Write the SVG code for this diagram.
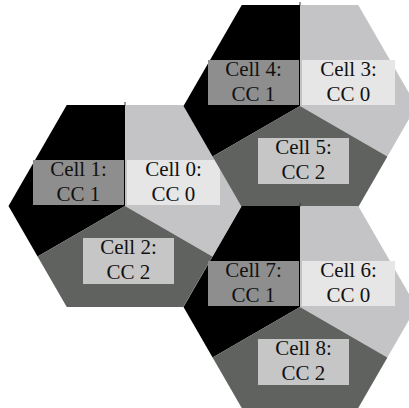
<svg xmlns="http://www.w3.org/2000/svg" width="409" height="408" viewBox="0 0 409 408">
<style>
.s1{fill:#000000}
.s0{fill:#c4c4c7}
.s2{fill:#5f625f}
.b1{fill:#8e8e8e}
.b0{fill:#e6e6e6}
.b2{fill:#c6c6c6}
.t{font-size:21px;fill:#111111;text-anchor:middle}
.tick{stroke:#333333;stroke-width:1}
</style>
<rect width="409" height="408" fill="#ffffff"/>
<g id="hex1">
<g id="cell1">
<polygon class="s1" points="125,206 125,105.1 66.75,105.1 8.5,206 37.6,256.4"/>
<rect class="b1" x="33" y="160" width="91" height="45"/>
<text class="t" font-family="Liberation Serif, serif" x="78.5" y="176">Cell 1:</text>
<text class="t" font-family="Liberation Serif, serif" x="78.5" y="201">CC 1</text>
</g>
<g id="cell0">
<polygon class="s0" points="125,206 125,105.1 183.25,105.1 241.5,206 212.4,256.4"/>
<rect class="b0" x="127" y="160" width="93" height="45"/>
<text class="t" font-family="Liberation Serif, serif" x="173.5" y="176">Cell 0:</text>
<text class="t" font-family="Liberation Serif, serif" x="173.5" y="201">CC 0</text>
</g>
<g id="cell2">
<polygon class="s2" points="125,206 212.4,256.4 183.25,306.9 66.75,306.9 37.6,256.4"/>
<rect class="b2" x="83" y="238" width="91" height="46"/>
<text class="t" font-family="Liberation Serif, serif" x="128.5" y="254">Cell 2:</text>
<text class="t" font-family="Liberation Serif, serif" x="128.5" y="279">CC 2</text>
</g>
</g>
<g id="hex2">
<g id="cell4">
<polygon class="s1" points="300,106 300,5.1 241.75,5.1 183.5,106 212.6,156.4"/>
<rect class="b1" x="208" y="60" width="91" height="45"/>
<text class="t" font-family="Liberation Serif, serif" x="253.5" y="76">Cell 4:</text>
<text class="t" font-family="Liberation Serif, serif" x="253.5" y="101">CC 1</text>
</g>
<g id="cell3">
<polygon class="s0" points="300,106 300,5.1 358.25,5.1 416.5,106 387.4,156.4"/>
<rect class="b0" x="302" y="60" width="93" height="45"/>
<text class="t" font-family="Liberation Serif, serif" x="348.5" y="76">Cell 3:</text>
<text class="t" font-family="Liberation Serif, serif" x="348.5" y="101">CC 0</text>
</g>
<g id="cell5">
<polygon class="s2" points="300,106 387.4,156.4 358.25,206.9 241.75,206.9 212.6,156.4"/>
<rect class="b2" x="258" y="138" width="91" height="46"/>
<text class="t" font-family="Liberation Serif, serif" x="303.5" y="154">Cell 5:</text>
<text class="t" font-family="Liberation Serif, serif" x="303.5" y="179">CC 2</text>
</g>
</g>
<g id="hex3">
<g id="cell7">
<polygon class="s1" points="300,307 300,206.1 241.75,206.1 183.5,307 212.6,357.4"/>
<rect class="b1" x="208" y="261" width="91" height="45"/>
<text class="t" font-family="Liberation Serif, serif" x="253.5" y="277">Cell 7:</text>
<text class="t" font-family="Liberation Serif, serif" x="253.5" y="302">CC 1</text>
</g>
<g id="cell6">
<polygon class="s0" points="300,307 300,206.1 358.25,206.1 416.5,307 387.4,357.4"/>
<rect class="b0" x="302" y="261" width="93" height="45"/>
<text class="t" font-family="Liberation Serif, serif" x="348.5" y="277">Cell 6:</text>
<text class="t" font-family="Liberation Serif, serif" x="348.5" y="302">CC 0</text>
</g>
<g id="cell8">
<polygon class="s2" points="300,307 387.4,357.4 358.25,407.9 241.75,407.9 212.6,357.4"/>
<rect class="b2" x="258" y="339" width="91" height="46"/>
<text class="t" font-family="Liberation Serif, serif" x="303.5" y="355">Cell 8:</text>
<text class="t" font-family="Liberation Serif, serif" x="303.5" y="380">CC 2</text>
</g>
</g>
<g id="ticks">
<line class="tick" x1="125" y1="102" x2="125" y2="105.5"/>
<line class="tick" x1="300" y1="2" x2="300" y2="5.5"/>
<line class="tick" x1="300" y1="203" x2="300" y2="206.5"/>
</g>
<g id="connectors"/>
</svg>
